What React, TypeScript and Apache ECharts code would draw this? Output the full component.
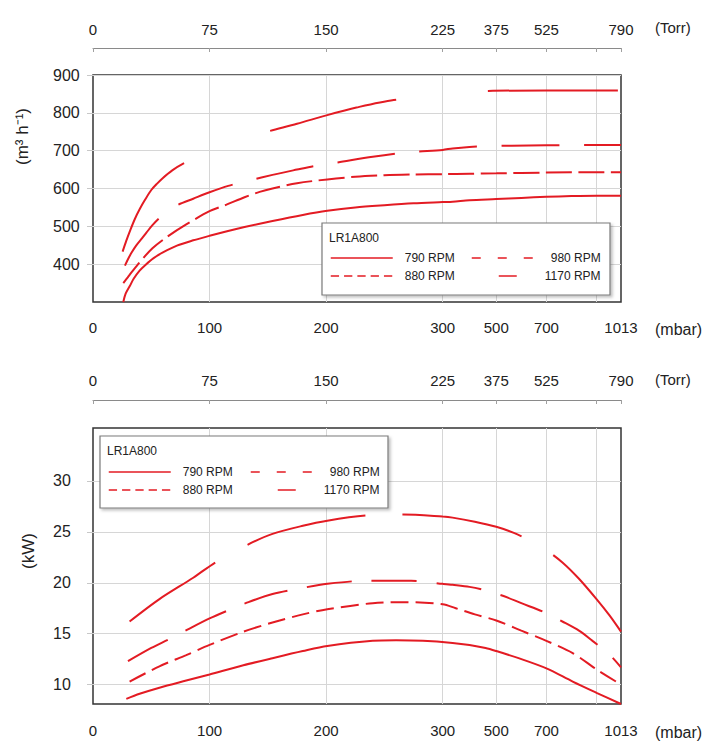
import React, { useEffect, useRef } from 'react';
import * as echarts from 'echarts';

// x scale: linear up to 300 mbar, compressed above (positions in axis units)
const BREAK_MBAR = [0, 300, 500, 700, 900, 1013];
const BREAK_POS = [0, 300, 346, 389, 432, 453];

const MBAR_LABELS = [0, 100, 200, 300, 500, 700, 1013];
const GRID_MBAR = [100, 200, 300, 500, 700, 900];
const TORR_LABELS = ['0', '75', '150', '225', '375', '525', '790'];
const TORR_AT_MBAR = [0, 100, 200, 300, 500, 700, 1013];
const TORR_TICK_MBAR = [0, 100, 200, 300, 500, 700, 900, 1013];

const FLOW_TICKS = [400, 500, 600, 700, 800, 900];
const POWER_TICKS = [10, 15, 20, 25, 30];

const RPM = ['790 RPM', '880 RPM', '980 RPM', '1170 RPM'];

// pumping speed (m3/h) vs pressure (mbar)
const flow790 = [[26, 300], [28, 322], [31.7, 343], [35, 362], [40, 383], [45, 398], [52, 416], [60, 431], [72, 449], [86, 463], [100, 475], [115, 487], [130, 498], [154, 514], [180, 530], [201, 541], [225, 550], [250, 556], [275, 561], [300, 564], [337, 565], [400, 569], [500, 572], [600, 575], [700, 578], [800, 580], [900, 581], [1013, 581]];
const flow880 = [[26, 350], [30, 366], [33, 378], [40, 405], [51, 442], [63, 471], [80, 505], [100, 540], [115, 558], [130, 577], [143, 591], [154, 600], [175, 614], [201, 624], [225, 631], [250, 635], [275, 637], [300, 638], [400, 639], [500, 640], [700, 642], [900, 643], [1013, 643]];
const flow980 = [[27.4, 396], [30, 413], [33, 430], [37, 449], [42, 468], [46, 484], [51, 503], [57, 522], [65, 541], [73, 557], [86, 573], [100, 590], [116, 607], [135, 622], [154, 636], [175, 650], [189, 659], [210, 669], [240, 684], [271, 696], [300, 702], [337, 706], [400, 710], [467, 712], [561, 713], [700, 714], [864, 715], [1013, 715]];
const flow1170 = [[25.4, 433], [28.6, 462], [32, 490], [36, 520], [40, 545], [45, 572], [50, 596], [55, 613], [60, 628], [68, 648], [77, 665], [90, 684], [100, 697], [115, 714], [130, 731], [147, 748], [175, 771], [201, 794], [226, 814], [258, 834], [300, 845], [350, 851], [400, 855], [470, 858], [700, 859], [900, 859], [1013, 859]];

// power (kW) vs pressure (mbar)
const power790 = [[28.6, 8.6], [40, 9.1], [57, 9.7], [80, 10.4], [100, 11.0], [129, 11.9], [154, 12.6], [180, 13.3], [201, 13.8], [240, 14.3], [260, 14.35], [283, 14.3], [337, 14.1], [400, 13.9], [460, 13.6], [500, 13.3], [589, 12.6], [700, 11.6], [805, 10.3], [900, 9.2], [1013, 8.1]];
const power880 = [[31.4, 10.3], [57, 11.8], [80, 12.9], [100, 13.9], [129, 15.2], [154, 16.1], [180, 16.9], [201, 17.4], [240, 18.0], [269, 18.1], [300, 17.9], [349, 17.5], [420, 16.9], [500, 16.3], [600, 15.3], [700, 14.3], [805, 13.1], [900, 11.5], [1013, 10.0]];
const power980 = [[30, 12.3], [50, 13.6], [66, 14.5], [81, 15.4], [100, 16.5], [116, 17.3], [131, 18.0], [154, 18.9], [180, 19.5], [201, 19.9], [234, 20.2], [257, 20.2], [273, 20.2], [300, 19.9], [337, 19.8], [400, 19.6], [453, 19.3], [529, 18.7], [600, 18.0], [693, 17.1], [764, 16.2], [830, 15.3], [884, 14.3], [958, 13.0], [1013, 11.7]];
const power1170 = [[31.4, 16.2], [57, 18.4], [86, 20.5], [105, 22.0], [132, 23.7], [154, 24.8], [180, 25.6], [201, 26.1], [234, 26.6], [266, 26.7], [300, 26.5], [337, 26.4], [420, 26.0], [500, 25.5], [570, 24.9], [630, 24.2], [700, 23.2], [764, 22.0], [830, 20.4], [900, 18.4], [960, 16.8], [1013, 15.2]];

const FONT = "'Liberation Sans', Arial, sans-serif";
const RED = '#e31b23';
const TEXT = '#222';
const GRID = '#d6d6d6';

const toPos = (m: number) => {
  for (let i = 1; i < BREAK_MBAR.length; i++) {
    if (m <= BREAK_MBAR[i]) {
      const t = (m - BREAK_MBAR[i - 1]) / (BREAK_MBAR[i] - BREAK_MBAR[i - 1]);
      return BREAK_POS[i - 1] + t * (BREAK_POS[i] - BREAK_POS[i - 1]);
    }
  }
  return BREAK_POS[BREAK_POS.length - 1];
};
const POS_MAX = toPos(1013);

const labelAt = (positions: number[], texts: string[]) => (v: number) => {
  const i = positions.findIndex((p) => Math.abs(p - v) < 0.01);
  return i < 0 ? '' : texts[i];
};

const mbarAxis = (gridIndex: number, margin: number) => {
  const pos = MBAR_LABELS.map(toPos);
  return {
    type: 'value',
    gridIndex,
    position: 'bottom',
    min: 0,
    max: POS_MAX,
    axisLine: { show: false, onZero: false },
    axisTick: { show: false, customValues: GRID_MBAR.map(toPos) },
    splitLine: { show: true, lineStyle: { color: GRID, width: 1 } },
    axisLabel: {
      customValues: pos,
      formatter: labelAt(pos, MBAR_LABELS.map(String)),
      margin,
      fontSize: 15,
      color: TEXT,
      fontFamily: FONT,
    },
    name: '(mbar)',
    nameLocation: 'end',
    nameGap: 34,
    nameTextStyle: { fontSize: 16, color: TEXT, fontFamily: FONT, verticalAlign: 'top', padding: [margin + 1, 0, 0, 0] },
  };
};

const torrAxis = (gridIndex: number, offset: number, margin: number) => {
  const pos = TORR_AT_MBAR.map(toPos);
  return {
    type: 'value',
    gridIndex,
    position: 'top',
    offset,
    min: 0,
    max: POS_MAX,
    axisLine: { show: true, onZero: false, lineStyle: { color: '#8a8a8a', width: 1 } },
    axisTick: { show: true, inside: true, length: 4, customValues: TORR_TICK_MBAR.map(toPos), lineStyle: { color: '#a0a0a0' } },
    splitLine: { show: false },
    axisLabel: {
      customValues: pos,
      formatter: labelAt(pos, TORR_LABELS),
      margin,
      fontSize: 15,
      color: TEXT,
      fontFamily: FONT,
    },
    name: '(Torr)',
    nameLocation: 'end',
    nameGap: 34,
    nameTextStyle: { fontSize: 15, color: TEXT, fontFamily: FONT, verticalAlign: 'bottom', padding: [0, 0, 13, 0] },
  };
};

const valueAxis = (gridIndex: number, min: number, max: number, ticks: number[], name: string, nameGap: number, shift: number, labelPad: number) => ({
  type: 'value',
  gridIndex,
  min,
  max,
  axisLine: { show: false },
  axisTick: { show: true, length: 6, customValues: ticks, lineStyle: { color: '#c8c8c8' } },
  splitLine: { show: true, lineStyle: { color: GRID, width: 1 } },
  axisLabel: { customValues: ticks, margin: 40, align: 'left', fontSize: 16, color: TEXT, fontFamily: FONT, padding: [labelPad, 0, 0, 0] },
  name,
  nameLocation: 'middle',
  nameGap,
  nameTextStyle: { fontSize: 17, color: TEXT, fontFamily: FONT, padding: [0, 0, 0, shift * 2] },
});

const curve = (name: string, data: number[][], xAxisIndex: number, yAxisIndex: number, type: any, dashOffset = 0) => ({
  type: 'line',
  name,
  xAxisIndex,
  yAxisIndex,
  data: data.map(([m, v]) => [toPos(m), v]),
  symbol: 'none',
  smooth: 0.3,
  clip: true,
  silent: true,
  lineStyle: { color: RED, width: 2, type, dashOffset },
  itemStyle: { color: RED },
});

// legend icons use their own dash patterns
const LEGEND_DASH: any[] = ['solid', [8.3, 5], [9, 17], [18, 28]];
const LEGEND_PAD = [7, 7, 12, 6];

const legendColumn = (left: number, top: number, idx: number[]) => ({
  orient: 'vertical',
  left,
  top,
  padding: 0,
  itemWidth: 62,
  itemHeight: 14,
  itemGap: 4,
  selectedMode: false,
  z: 20,
  textStyle: { fontSize: 12, lineHeight: 14, color: TEXT, fontFamily: FONT },
  data: idx.map((i) => ({
    name: RPM[i],
    itemStyle: { opacity: 0, borderWidth: 0 },
    lineStyle: { color: RED, width: 1.5, type: LEGEND_DASH[i] },
    textStyle: { padding: [0, 0, 0, LEGEND_PAD[i]] },
  })),
});

const legendBox = (x: number, y: number) => [
  {
    type: 'rect',
    z: 10,
    shape: { x, y, width: 288, height: 72 },
    style: { fill: '#fff', stroke: '#7a7a7a', lineWidth: 1.2, shadowBlur: 3, shadowOffsetX: 2, shadowOffsetY: 2, shadowColor: 'rgba(0,0,0,0.25)' },
  },
  {
    type: 'text',
    z: 21,
    x: x + 7,
    y: y + 15,
    style: { text: 'LR1A800', fontSize: 12, fill: TEXT, fontFamily: FONT, verticalAlign: 'middle' },
  },
];

const App = () => {
  const chartRef = useRef<HTMLDivElement>(null);

  useEffect(() => {
    document.body.style.margin = '0';
    const chart = echarts.init(chartRef.current!, null, { renderer: 'svg' });

    chart.setOption({
      animation: false,
      backgroundColor: '#fff',
      grid: [
        { left: 93, top: 75, width: 528, height: 227, show: true, borderColor: '#333', borderWidth: 1.5, containLabel: false, outerBoundsMode: 'none' },
        { left: 93, top: 428, width: 528, height: 276, show: true, borderColor: '#333', borderWidth: 1.5, containLabel: false, outerBoundsMode: 'none' },
      ],
      xAxis: [mbarAxis(0, 18), torrAxis(0, 27, 11), mbarAxis(1, 19), torrAxis(1, 28, 12)],
      yAxis: [
        valueAxis(0, 300, 900, FLOW_TICKS, '(m³ h⁻¹)', 62, 52, 13),
        valueAxis(1, 8.1, 35.2, POWER_TICKS, '(kW)', 56, 15, 5),
      ],
      legend: [
        legendColumn(330, 251, [0, 1]),
        legendColumn(471, 251, [2, 3]),
        legendColumn(108, 465, [0, 1]),
        legendColumn(250, 465, [2, 3]),
      ],
      graphic: [...legendBox(322, 223), ...legendBox(100, 436)],
      series: [
        curve(RPM[0], flow790, 0, 0, 'solid'),
        curve(RPM[1], flow880, 0, 0, [26, 6.5]),
        curve(RPM[2], flow980, 0, 0, [58, 24.5]),
        curve(RPM[3], flow1170, 0, 0, [130, 92], 19),
        curve(RPM[0], power790, 2, 1, 'solid'),
        curve(RPM[1], power880, 2, 1, [18, 7]),
        curve(RPM[2], power980, 2, 1, [45, 20]),
        curve(RPM[3], power1170, 2, 1, [122, 37], 18),
      ],
    });

    return () => {
      chart.dispose();
    };
  }, []);

  return <div ref={chartRef} style={{ width: '718px', height: '750px' }}></div>;
};

export default App;
